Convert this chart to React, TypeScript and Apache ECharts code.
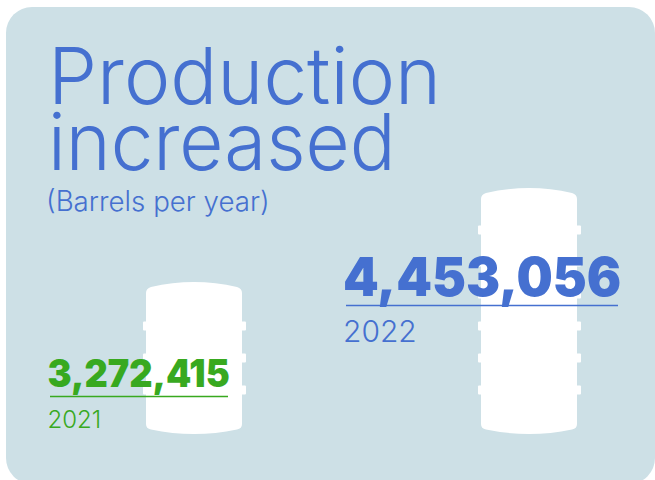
import React, { useEffect, useRef } from "react";
import * as echarts from "echarts";

const years = ["2021", "2022"];
const barrels = [3272415, 4453056];
const accents = ["#38a91f", "#4570d0"];
const titleLines = ["Production", "increased"];
const subtitle = "(Barrels per year)";

const PANEL = "#cde0e6";
const BLUE = "#4570d0";
const FONT = "Inter";
const AXIS_MIN = 1363000;
const AXIS_MAX = 5558000;

// Oil drum: white body with a domed lid and base, hoops stepped up from the base.
function renderDrum(_params: any, api: any) {
  const cx = api.coord([api.value(0), AXIS_MIN])[0];
  const top = api.coord([0, api.value(1)])[1];
  const bottom = api.coord([0, AXIS_MIN])[1];
  const half = 48;
  const l = cx - half;
  const r = cx + half;
  const d = [
    `M${l} ${top + 11}`,
    `Q${l} ${top + 6.5} ${l + 5} ${top + 5}`,
    `Q${cx} ${top - 5} ${r - 5} ${top + 5}`,
    `Q${r} ${top + 6.5} ${r} ${top + 11}`,
    `L${r} ${bottom - 10}`,
    `Q${r} ${bottom - 5.5} ${r - 5} ${bottom - 4.5}`,
    `Q${cx} ${bottom + 4.5} ${l + 5} ${bottom - 4.5}`,
    `Q${l} ${bottom - 5.5} ${l} ${bottom - 10}`,
    "Z",
  ].join(" ");
  const children: any[] = [
    {
      type: "path",
      shape: { pathData: d, x: l, y: top, width: half * 2, height: bottom - top },
      style: { fill: "#ffffff" },
    },
  ];
  for (let y = bottom - 44; y > top + 30; y -= 32) {
    children.push({
      type: "rect",
      shape: { x: l - 3, y: y - 4.5, width: half * 2 + 7, height: 9, r: 1 },
      style: { fill: "#ffffff" },
    });
  }
  return { type: "group", children };
}

function App() {
  const ref = useRef<HTMLDivElement>(null);

  useEffect(() => {
    const chart = echarts.init(ref.current!, null, { renderer: "svg" });

    const heading = (text: string, x: number, y: number, size: number, scaleX: number) => ({
      type: "text",
      z: 20,
      x,
      y,
      scaleX,
      style: {
        text,
        fill: BLUE,
        fontFamily: FONT,
        fontWeight: 300,
        fontSize: size,
        lineHeight: Math.min(size, 66),
        textVerticalAlign: "middle",
      },
    });

    const readout = (
      i: number,
      x: number,
      ruleY: number,
      ruleX: number,
      ruleWidth: number,
      size: number,
      squeeze: number,
      digitsY: number,
      yearSize: number,
      yearY: number
    ) => [
      {
        type: "text",
        z: 20,
        x,
        y: digitsY,
        scaleX: squeeze,
        style: {
          text: barrels[i].toLocaleString("en-US"),
          fill: accents[i],
          fontFamily: FONT,
          fontWeight: 900,
          fontSize: size,
          textVerticalAlign: "middle",
        },
      },
      {
        type: "line",
        z: 20,
        shape: { x1: ruleX, y1: ruleY, x2: ruleX + ruleWidth, y2: ruleY },
        style: { stroke: accents[i], lineWidth: 1.5 },
      },
      {
        type: "text",
        z: 20,
        x,
        y: yearY,
        style: {
          text: years[i],
          fill: accents[i],
          fontFamily: FONT,
          fontWeight: 300,
          fontSize: yearSize,
          textVerticalAlign: "middle",
        },
      },
    ];

    chart.setOption({
      animation: false,
      grid: { left: 194, width: 335, top: 100, bottom: 46 },
      xAxis: { type: "category", data: years, boundaryGap: false, show: false },
      yAxis: { type: "value", min: AXIS_MIN, max: AXIS_MAX, show: false },
      graphic: [
        {
          type: "rect",
          z: -10,
          shape: { x: 6, y: 7, width: 649, height: 477, r: 26 },
          style: { fill: PANEL },
        },
        heading(titleLines[0], 48, 75.5, 79, 0.99),
        heading(titleLines[1], 48, 141.5, 79, 0.965),
        heading(subtitle, 46, 201, 27.7, 1),
        ...readout(0, 47.5, 396.5, 50, 178, 38, 0.95, 373.5, 24, 419),
        ...readout(1, 343, 305.5, 346, 272, 54, 0.945, 276.5, 30, 330.5),
      ],
      series: [
        {
          type: "custom",
          renderItem: renderDrum,
          clip: false,
          encode: { x: 0, y: 1 },
          data: barrels.map((v, i) => [i, v]),
        },
      ],
    });
    return () => chart.dispose();
  }, []);

  return <div ref={ref} style={{ width: 655, height: 480, position: "absolute", left: 0, top: 0 }} />;
}

export default App;
